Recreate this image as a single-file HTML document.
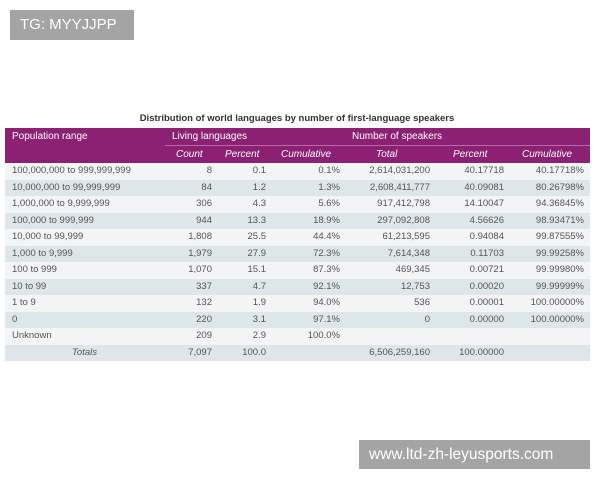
<!DOCTYPE html>
<html><head><meta charset="utf-8"><style>
body{margin:0;width:600px;height:480px;background:#fff;position:relative;overflow:hidden;font-family:"Liberation Sans",sans-serif}
.a{position:absolute;white-space:nowrap}
.wm{background:#a4a4a4;color:#fff;font-size:15px;line-height:30px;padding:0 10px}
.t{position:absolute;left:5px;top:128px;width:585px;font-size:9.5px;color:#555}
.hd{position:absolute;left:0;width:585px;background:#8c2173;color:#fff}
.r{position:absolute;left:0;width:585px;height:16.5px;line-height:16.5px}
.r span,.hd span{position:absolute;white-space:nowrap}
.c1{left:7px}.c2{right:378px}.c3{right:324px}.c4{right:250px}.c5{right:160px}.c6{right:86px}.c7{right:6px}
i{font-style:italic}
</style></head><body>
<div class="a wm" style="left:10px;top:10px;height:30px;width:104px">TG: MYYJJPP</div>
<div class="a wm" style="left:359px;top:440px;height:29px;width:211px;font-size:15.5px">www.ltd-zh-leyusports.com</div>
<div class="a" style="left:0;width:594px;text-align:center;top:113px;font-size:9.5px;font-weight:bold;color:#333">Distribution of world languages by number of first-language speakers</div>
<div class="t">
<div class="hd" style="top:0;height:35px;font-size:10px">
<span style="left:7px;top:3px">Population range</span>
<span style="left:167px;top:3px">Living languages</span>
<span style="left:347px;top:3px">Number of speakers</span>
<div style="position:absolute;left:160px;right:0;top:17px;height:1px;background:#b96aa5"></div>
<span style="left:171px;top:21px"><i>Count</i></span>
<span style="left:220px;top:21px"><i>Percent</i></span>
<span style="left:276px;top:21px"><i>Cumulative</i></span>
<span style="left:371px;top:21px"><i>Total</i></span>
<span style="left:448px;top:21px"><i>Percent</i></span>
<span style="left:517px;top:21px"><i>Cumulative</i></span>
</div>
<div class="r" style="top:35px;background:#f2f4f5"><span class="c1">100,000,000 to 999,999,999</span><span class="c2">8</span><span class="c3">0.1</span><span class="c4">0.1%</span><span class="c5">2,614,031,200</span><span class="c6">40.17718</span><span class="c7">40.17718%</span></div>
<div class="r" style="top:51.5px;background:#dfe6ea"><span class="c1">10,000,000 to 99,999,999</span><span class="c2">84</span><span class="c3">1.2</span><span class="c4">1.3%</span><span class="c5">2,608,411,777</span><span class="c6">40.09081</span><span class="c7">80.26798%</span></div>
<div class="r" style="top:68px;background:#f2f4f5"><span class="c1">1,000,000 to 9,999,999</span><span class="c2">306</span><span class="c3">4.3</span><span class="c4">5.6%</span><span class="c5">917,412,798</span><span class="c6">14.10047</span><span class="c7">94.36845%</span></div>
<div class="r" style="top:84.5px;background:#dfe6ea"><span class="c1">100,000 to 999,999</span><span class="c2">944</span><span class="c3">13.3</span><span class="c4">18.9%</span><span class="c5">297,092,808</span><span class="c6">4.56626</span><span class="c7">98.93471%</span></div>
<div class="r" style="top:101px;background:#f2f4f5"><span class="c1">10,000 to 99,999</span><span class="c2">1,808</span><span class="c3">25.5</span><span class="c4">44.4%</span><span class="c5">61,213,595</span><span class="c6">0.94084</span><span class="c7">99.87555%</span></div>
<div class="r" style="top:117.5px;background:#dfe6ea"><span class="c1">1,000 to 9,999</span><span class="c2">1,979</span><span class="c3">27.9</span><span class="c4">72.3%</span><span class="c5">7,614,348</span><span class="c6">0.11703</span><span class="c7">99.99258%</span></div>
<div class="r" style="top:134px;background:#f2f4f5"><span class="c1">100 to 999</span><span class="c2">1,070</span><span class="c3">15.1</span><span class="c4">87.3%</span><span class="c5">469,345</span><span class="c6">0.00721</span><span class="c7">99.99980%</span></div>
<div class="r" style="top:150.5px;background:#dfe6ea"><span class="c1">10 to 99</span><span class="c2">337</span><span class="c3">4.7</span><span class="c4">92.1%</span><span class="c5">12,753</span><span class="c6">0.00020</span><span class="c7">99.99999%</span></div>
<div class="r" style="top:167px;background:#f2f4f5"><span class="c1">1 to 9</span><span class="c2">132</span><span class="c3">1.9</span><span class="c4">94.0%</span><span class="c5">536</span><span class="c6">0.00001</span><span class="c7">100.00000%</span></div>
<div class="r" style="top:183.5px;background:#dfe6ea"><span class="c1">0</span><span class="c2">220</span><span class="c3">3.1</span><span class="c4">97.1%</span><span class="c5">0</span><span class="c6">0.00000</span><span class="c7">100.00000%</span></div>
<div class="r" style="top:200px;background:#f2f4f5"><span class="c1">Unknown</span><span class="c2">209</span><span class="c3">2.9</span><span class="c4">100.0%</span></div>
<div class="r" style="top:216.5px;background:#dfe6ea"><span style="left:67px"><i>Totals</i></span><span class="c2">7,097</span><span class="c3">100.0</span><span class="c5">6,506,259,160</span><span class="c6">100.00000</span></div>
</div>
</body></html>
